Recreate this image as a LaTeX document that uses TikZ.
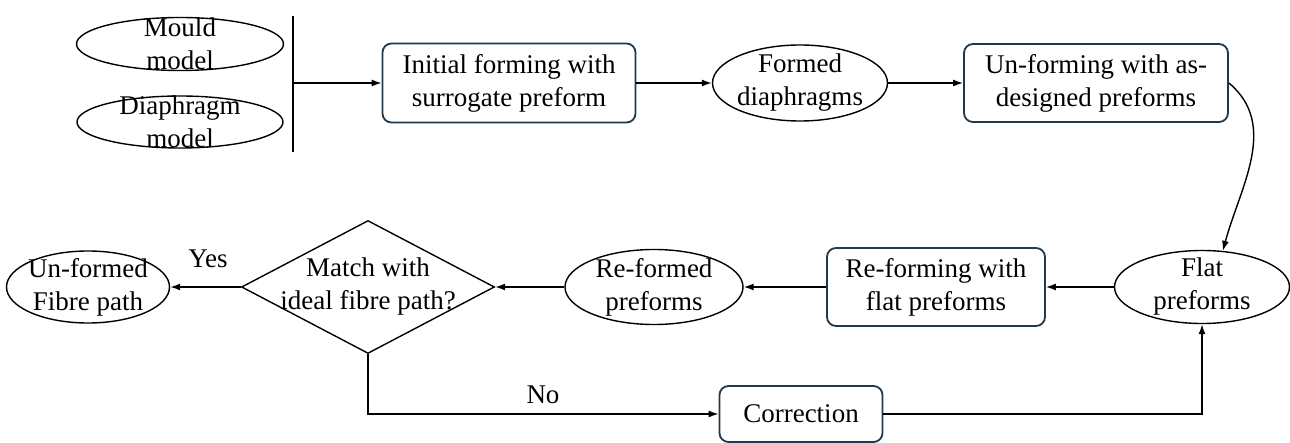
\documentclass[tikz,border=0pt]{standalone}
\usepackage{fontspec}
\setmainfont{Liberation Serif}
\usetikzlibrary{shapes.geometric,arrows.meta}
\definecolor{borde}{HTML}{1F3A4D}

\begin{document}
\begin{tikzpicture}[x=1bp,y=-1bp,line width=1.4bp,
  font=\fontsize{27bp}{33bp}\selectfont,
  flecha/.style={-{Latex[length=10bp,width=7bp]}},
  caja/.style={draw=borde,line width=1.8bp,rounded corners=9bp,align=center,inner sep=0pt},
  ovalo/.style={draw,ellipse,inner sep=0pt},
  rombo/.style={draw,diamond,inner sep=0pt},
  every label/.style={align=center,inner sep=0pt}]

  \useasboundingbox (0,0) rectangle (1290,443);

  \node[ovalo,minimum width=207bp,minimum height=53bp,label=center:{Mould\\model}] (mould) at (180,44) {};
  \node[ovalo,minimum width=206bp,minimum height=52bp,label=center:{Diaphragm\\model}] (diaphragm) at (180,122) {};
  \coordinate (BT) at (293,16);
  \coordinate (BM) at (293,83);
  \coordinate (BB) at (293,152);
  \draw (BT) -- (BB);

  \node[caja,minimum width=253bp,minimum height=79bp] (initial) at (509,83) {Initial forming with\\surrogate preform};
  \node[ovalo,minimum width=175bp,minimum height=76bp,label=center:{Formed\\diaphragms}] (formed) at (800,83) {};
  \node[caja,minimum width=264bp,minimum height=78bp] (unforming) at (1096,83) {Un-forming with as-\\designed preforms};

  \node[ovalo,minimum width=175bp,minimum height=73bp,label=center:{Flat\\preforms}] (flat) at (1202,287) {};
  \node[caja,minimum width=218bp,minimum height=78bp] (reforming) at (936,287) {Re-forming with\\flat preforms};
  \node[ovalo,minimum width=178bp,minimum height=75bp,label=center:{Re-formed\\preforms}] (reformed) at (654,287) {};
  \node[rombo,minimum width=253bp,minimum height=133bp,label=center:{Match with\\ideal fibre path?}] (match) at (368,287) {};
  \node[ovalo,minimum width=163bp,minimum height=72bp,label=center:{Un-formed\\Fibre path}] (unformed) at (88,287) {};
  \node[caja,minimum width=163bp,minimum height=56bp] (correction) at (801,414) {Correction};

  \node (yes) at (208,259) {Yes};
  \node (no) at (543,395) {No};

  \draw[flecha] (BM) -- (initial.west);
  \draw[flecha] (initial) -- (formed);
  \draw[flecha] (formed) -- (unforming);
  \draw[flecha] (unforming.east) to[out=-40,in=75] (flat.60);
  \draw[flecha] (flat) -- (reforming);
  \draw[flecha] (reforming) -- (reformed);
  \draw[flecha] (reformed) -- (match);
  \draw[flecha] (match) -- (unformed);
  \draw[flecha] (match.south) |- (correction.west);
  \draw[flecha] (correction.east) -| (flat.south);

\end{tikzpicture}
\end{document}
